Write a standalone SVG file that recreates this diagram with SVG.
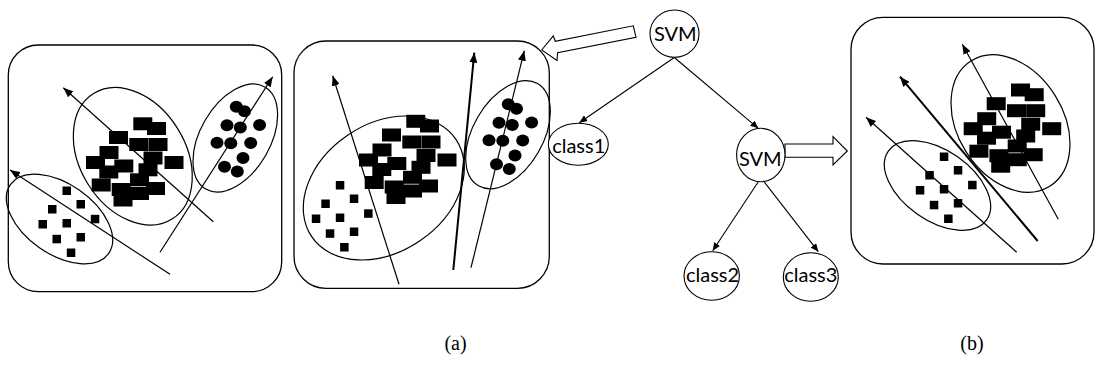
<svg xmlns="http://www.w3.org/2000/svg" xmlns:xlink="http://www.w3.org/1999/xlink" width="1095" height="365" viewBox="0 0 1095 365">
<style>
.frame{fill:none;stroke:#000;stroke-width:1.3}
.ell{fill:none;stroke:#000;stroke-width:1.2}
.ln{fill:none;stroke:#000;stroke-width:1.2;marker-end:url(#ah)}
.thick{fill:none;stroke:#000;stroke-width:2;marker-end:url(#ah)}
.edge{fill:none;stroke:#000;stroke-width:1.1;marker-end:url(#ah2)}
.node{fill:#fff;stroke:#000;stroke-width:1.1}
.lbl{font-family:Lato,"Liberation Sans",sans-serif;font-size:20px;fill:#000;text-anchor:middle}
.cap{font-family:"Liberation Serif",serif;font-size:20px;fill:#000;text-anchor:middle}
.blk{fill:#fff;stroke:#000;stroke-width:1.1;stroke-linejoin:miter}
</style>
<defs>
<marker id="ah" markerUnits="userSpaceOnUse" markerWidth="11" markerHeight="8" refX="10" refY="4" orient="auto"><path d="M0,0 L10,4 L0,8 z" fill="#000"/></marker>
<marker id="ah2" markerUnits="userSpaceOnUse" markerWidth="9" markerHeight="7" refX="8" refY="3.5" orient="auto"><path d="M0,0 L8,3.5 L0,7 z" fill="#000"/></marker>
<g id="big" fill="#000">
<rect x="133.3" y="117.3" width="19" height="13"/>
<rect x="147" y="122" width="19" height="13"/>
<rect x="109" y="131" width="19" height="13"/>
<rect x="129.3" y="138" width="19" height="13"/>
<rect x="148.5" y="138" width="19" height="13"/>
<rect x="99.5" y="146" width="19" height="13"/>
<rect x="86" y="156" width="19" height="13"/>
<rect x="114.3" y="159.5" width="19" height="13"/>
<rect x="143.5" y="151.5" width="19" height="13"/>
<rect x="164.5" y="156" width="19" height="13"/>
<rect x="138.5" y="163.3" width="19" height="13"/>
<rect x="99.3" y="165.5" width="19" height="13"/>
<rect x="91.7" y="178.5" width="19" height="13"/>
<rect x="111.7" y="183" width="19" height="13"/>
<rect x="130" y="173.3" width="19" height="13"/>
<rect x="130" y="187" width="19" height="13"/>
<rect x="146" y="182" width="19" height="13"/>
<rect x="113.5" y="193.5" width="19" height="13"/>
</g>
<g id="small" fill="#000">
<rect x="62.5" y="186.5" width="8.5" height="8.5"/>
<rect x="48" y="205" width="8.5" height="8.5"/>
<rect x="76.5" y="200" width="8.5" height="8.5"/>
<rect x="38.5" y="220" width="8.5" height="8.5"/>
<rect x="62.5" y="219" width="8.5" height="8.5"/>
<rect x="90.8" y="214.8" width="8.5" height="8.5"/>
<rect x="52.5" y="234.8" width="8.5" height="8.5"/>
<rect x="76.5" y="233" width="8.5" height="8.5"/>
<rect x="66.8" y="248.5" width="8.5" height="8.5"/>
</g>
<g id="dots" fill="#000">
<ellipse cx="236.3" cy="106.7" rx="6.5" ry="6"/>
<ellipse cx="244.5" cy="111.2" rx="6.5" ry="6"/>
<ellipse cx="227" cy="125.3" rx="6.5" ry="6"/>
<ellipse cx="240.3" cy="127.5" rx="6.5" ry="6"/>
<ellipse cx="259.6" cy="125" rx="6.5" ry="6"/>
<ellipse cx="217" cy="142.8" rx="6.5" ry="6"/>
<ellipse cx="230.8" cy="143.3" rx="6.5" ry="6"/>
<ellipse cx="250.7" cy="143" rx="6.5" ry="6"/>
<ellipse cx="243" cy="158" rx="6.5" ry="6"/>
<ellipse cx="224.5" cy="166.7" rx="6.5" ry="6"/>
<ellipse cx="237.3" cy="171.6" rx="6.5" ry="6"/>
</g>
</defs>

<g id="panel-left">
<rect class="frame" x="8.3" y="45" width="273.4" height="246.7" rx="30"/>
<use xlink:href="#big" href="#big"/>
<use xlink:href="#small" href="#small"/>
<use xlink:href="#dots" href="#dots"/>
<ellipse class="ell" cx="59.5" cy="219" rx="60" ry="35" transform="rotate(35 59.5 219)"/>
<ellipse class="ell" cx="132.8" cy="156.3" rx="52.7" ry="74" transform="rotate(-32 132.8 156.3)"/>
<ellipse class="ell" cx="235.3" cy="138" rx="35" ry="59" transform="rotate(30 235.3 138)"/>
<line class="ln" x1="213.3" y1="221.7" x2="63.3" y2="87.7"/>
<line class="ln" x1="170" y1="274.3" x2="10" y2="170"/>
<line class="ln" x1="160" y1="252.3" x2="272.7" y2="76.7"/>
</g>

<g id="panel-middle">
<rect class="frame" x="294" y="41" width="255.3" height="247.3" rx="32"/>
<use xlink:href="#big" href="#big" transform="translate(273 -2.5)"/>
<use xlink:href="#small" href="#small" transform="translate(273.3 -5.5)"/>
<use xlink:href="#dots" href="#dots" transform="translate(272 -2.5)"/>
<ellipse class="ell" cx="383.8" cy="188" rx="87" ry="64" transform="rotate(-34 383.8 188)"/>
<ellipse class="ell" cx="508" cy="134.7" rx="35" ry="59" transform="rotate(30 508 134.7)"/>
<line class="ln" x1="399" y1="284.3" x2="332.7" y2="75.7"/>
<line class="thick" x1="453.3" y1="270" x2="474.3" y2="52.7"/>
<line class="ln" x1="471" y1="267.7" x2="524.3" y2="50.7"/>
</g>

<g id="panel-right">
<rect class="frame" x="851" y="17.3" width="243" height="246.7" rx="32"/>
<use xlink:href="#big" href="#big" transform="translate(877.7 -33.8)"/>
<use xlink:href="#small" href="#small" transform="translate(877.3 -34)"/>
<ellipse class="ell" cx="1010.5" cy="123.5" rx="52.7" ry="74" transform="rotate(-32 1010.5 123.5)"/>
<ellipse class="ell" cx="937.5" cy="185.5" rx="60" ry="35" transform="rotate(35 937.5 185.5)"/>
<line class="ln" x1="1058.3" y1="219.3" x2="962.3" y2="44.3"/>
<line class="thick" x1="1037.7" y1="241" x2="900" y2="76.7"/>
<line class="ln" x1="1016.7" y1="252.3" x2="866" y2="117.3"/>
</g>

<g id="block-arrow-left">
<polygon class="blk" points="541.7,50 553.3,35.8 555.2,41.3 633.3,25.8 636,37.2 557.6,52.6 557,60.5"/>
</g>
<g id="block-arrow-right">
<polygon class="blk" points="785,144 833,144 833,136.7 847.3,151 833,165 833,157.3 785,157.3"/>
</g>

<g id="connectors">
<line class="edge" x1="674.3" y1="57.5" x2="579.3" y2="122.7"/>
<line class="edge" x1="674.3" y1="57.5" x2="758.3" y2="128.3"/>
<line class="edge" x1="758.3" y1="181.7" x2="712.7" y2="250.7"/>
<line class="edge" x1="764" y1="181.7" x2="818.3" y2="251.7"/>
</g>

<g id="node-svm1">
<ellipse class="node" cx="674.5" cy="33.7" rx="24.5" ry="23.7"/>
<text class="lbl" x="675.3" y="40.7">SVM</text>
</g>
<g id="node-class1">
<ellipse class="node" cx="578.3" cy="144.2" rx="30" ry="21"/>
<text class="lbl" x="578.7" y="153.3">class1</text>
</g>
<g id="node-svm2">
<ellipse class="node" cx="760.8" cy="155" rx="24.2" ry="26.7"/>
<text class="lbl" x="760.3" y="165.7">SVM</text>
</g>
<g id="node-class2">
<ellipse class="node" cx="711.7" cy="276" rx="27.7" ry="24.3"/>
<text class="lbl" x="712.5" y="281.7">class2</text>
</g>
<g id="node-class3">
<ellipse class="node" cx="810.8" cy="277" rx="27.5" ry="24.3"/>
<text class="lbl" x="810.8" y="282">class3</text>
</g>

<text class="cap" x="455.5" y="350">(a)</text>
<text class="cap" x="972" y="350">(b)</text>
</svg>
